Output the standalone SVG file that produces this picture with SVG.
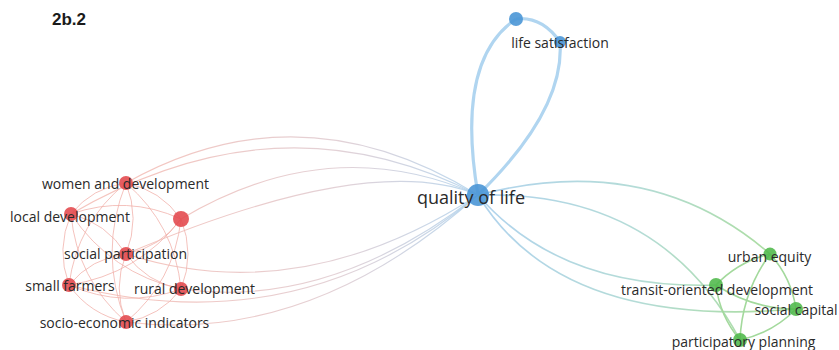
<svg xmlns="http://www.w3.org/2000/svg" width="839" height="350" viewBox="0 0 839 350">
  <style>
    .lbl { font-family: "Open Sans", "Noto Sans", sans-serif; font-size: 14px; fill: #2a2a2a; text-anchor: middle; dominant-baseline: central; }
    .big { font-size: 18px; }
    .title { font-family: "Liberation Sans", Arial, sans-serif; font-size: 17px; font-weight: bold; fill: #1a1a1a; }
    .e { fill: none; }
    .red-int { stroke: #f0aea7; stroke-width: 1; opacity: 0.75; }
    .red-q { stroke: url(#gRB); stroke-width: 1.1; opacity: 0.8; }
    .grn-int { stroke: #a3d99c; stroke-width: 1.6; }
    .grn-q { stroke: url(#gBG); stroke-width: 1.6; opacity: 0.9; }
    .blu { stroke: #b0d5f0; stroke-width: 3.2; }
    .nr { fill: #e2474b; opacity: 0.88; }
    .nb { fill: #4a96d6; opacity: 0.9; }
    .ng { fill: #4fb84a; opacity: 0.88; }
  </style>
  <defs>
    <linearGradient id="gRB" gradientUnits="userSpaceOnUse" x1="140" y1="0" x2="470" y2="0">
      <stop offset="0" stop-color="#f2b6ae"/>
      <stop offset="0.6" stop-color="#dcc6cc"/>
      <stop offset="1" stop-color="#adcfea"/>
    </linearGradient>
    <linearGradient id="gBG" gradientUnits="userSpaceOnUse" x1="490" y1="0" x2="760" y2="0">
      <stop offset="0" stop-color="#a8cfea"/>
      <stop offset="0.55" stop-color="#acd8d2"/>
      <stop offset="1" stop-color="#a3d99c"/>
    </linearGradient>
  </defs>
  <rect width="839" height="350" fill="#ffffff"/>

  <text class="title" x="52" y="25">2b.2</text>

  <g id="connectors">
    <!-- red cluster, internal links -->
    <path class="e red-int" d="M126,183 Q92.3,187.5 71,214"/>
    <path class="e red-int" d="M71,214 Q55.8,249.1 69,285"/>
    <path class="e red-int" d="M69,285 Q90.1,314.9 126,322"/>
    <path class="e red-int" d="M126,322 Q160.1,316.5 181,289"/>
    <path class="e red-int" d="M181,289 Q195,254 181,219"/>
    <path class="e red-int" d="M181,219 Q160.7,190 126,183"/>
    <path class="e red-int" d="M126,183 Q77.1,222.6 69,285"/>
    <path class="e red-int" d="M71,214 Q76.9,279 126,322"/>
    <path class="e red-int" d="M69,285 Q124.2,309.4 181,289"/>
    <path class="e red-int" d="M126,322 Q174.1,281.5 181,219"/>
    <path class="e red-int" d="M181,289 Q174.7,225 126,183"/>
    <path class="e red-int" d="M181,219 Q127,194.5 71,214"/>
    <path class="e red-int" d="M126,183 Q98.2,252.5 126,322"/>
    <path class="e red-int" d="M71,214 Q111,273.5 181,289"/>
    <path class="e red-int" d="M69,285 Q138.2,274.4 181,219"/>
    <path class="e red-int" d="M126,254 Q140.2,218.5 126,183"/>
    <path class="e red-int" d="M126,254 Q106.5,223 71,214"/>
    <path class="e red-int" d="M126,254 Q91.3,258.1 69,285"/>
    <path class="e red-int" d="M126,254 Q112.4,288 126,322"/>
    <path class="e red-int" d="M126,254 Q146.5,282.5 181,289"/>
    <path class="e red-int" d="M126,254 Q160.5,247.5 181,219"/>

    <!-- red cluster to quality of life -->
    <path class="e red-q" d="M126,183 Q300,85 478,195"/>
    <path class="e red-q" d="M71,214 Q280,92 478,195"/>
    <path class="e red-q" d="M181,219 Q330,130 478,195"/>
    <path class="e red-q" d="M126,254 Q370,150 478,195"/>
    <path class="e red-q" d="M126,254 Q300,310 478,195"/>
    <path class="e red-q" d="M181,289 Q330,310 478,195"/>
    <path class="e red-q" d="M69,285 Q300,345 478,195"/>
    <path class="e red-q" d="M126,322 Q310,345 478,195"/>

    <!-- blue cluster -->
    <path class="e blu" d="M478,195 Q455,60 516,19"/>
    <path class="e blu" d="M478,195 Q565,110 560,42"/>
    <path class="e blu" d="M516,19 Q542,16 560,42"/>

    <!-- quality of life to green cluster -->
    <path class="e grn-q" d="M478,195 Q650,150 770,254"/>
    <path class="e grn-q" d="M478,195 Q660,190 740,340"/>
    <path class="e grn-q" d="M478,195 Q560,290 716,285"/>
    <path class="e grn-q" d="M478,195 Q560,330 796,309"/>

    <!-- green cluster, internal links -->
    <path class="e grn-int" d="M770,254 Q738.4,261.4 716,285"/>
    <path class="e grn-int" d="M716,285 Q719.8,316.1 740,340"/>
    <path class="e grn-int" d="M740,340 Q772.7,332.9 796,309"/>
    <path class="e grn-int" d="M796,309 Q791.3,277.6 770,254"/>
    <path class="e grn-int" d="M770,254 Q742.1,292.5 740,340"/>
    <path class="e grn-int" d="M716,285 Q752.4,309 796,309"/>
  </g>

  <g id="n-women-and-development"><circle class="nr" cx="126" cy="183" r="7"/><text class="lbl" x="125.5" y="183">women and development</text></g>
  <g id="n-local-development"><circle class="nr" cx="71" cy="214" r="7"/><text class="lbl" x="70" y="216">local development</text></g>
  <g id="n-unlabeled-red"><circle class="nr" cx="181" cy="219" r="8"/></g>
  <g id="n-social-participation"><circle class="nr" cx="126" cy="254" r="7"/><text class="lbl" x="125.5" y="253">social participation</text></g>
  <g id="n-small-farmers"><circle class="nr" cx="69" cy="285" r="7"/><text class="lbl" x="70" y="285">small farmers</text></g>
  <g id="n-rural-development"><circle class="nr" cx="181" cy="289" r="7"/><text class="lbl" x="194.5" y="288">rural development</text></g>
  <g id="n-socio-economic-indicators"><circle class="nr" cx="126" cy="322" r="7"/><text class="lbl" x="124.5" y="322">socio-economic indicators</text></g>

  <g id="n-quality-of-life"><circle class="nb" cx="478" cy="195" r="11"/><text class="lbl big" x="471" y="197">quality of life</text></g>
  <g id="n-top-blue"><circle class="nb" cx="516" cy="19" r="7"/></g>
  <g id="n-life-satisfaction"><circle class="nb" cx="560" cy="42" r="6"/><text class="lbl" x="560" y="42">life satisfaction</text></g>

  <g id="n-urban-equity"><circle class="ng" cx="770" cy="254" r="6.5"/><text class="lbl" x="769.5" y="256">urban equity</text></g>
  <g id="n-transit-oriented-development"><circle class="ng" cx="716" cy="285" r="7"/><text class="lbl" x="717" y="289">transit-oriented development</text></g>
  <g id="n-social-capital"><circle class="ng" cx="796" cy="309" r="7"/><text class="lbl" x="796" y="309">social capital</text></g>
  <g id="n-participatory-planning"><circle class="ng" cx="740" cy="340" r="7"/><text class="lbl" x="743.5" y="341">participatory planning</text></g>
</svg>
